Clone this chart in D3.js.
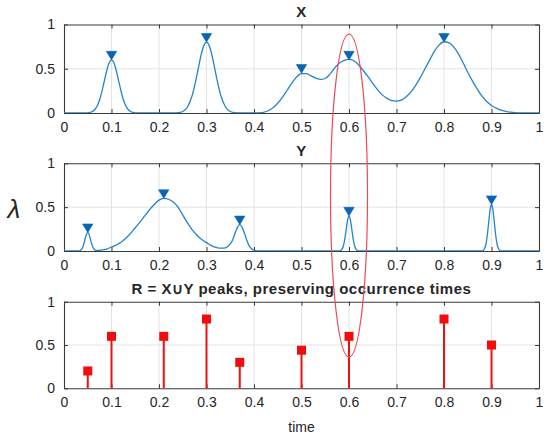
<!DOCTYPE html>
<html><head><meta charset="utf-8">
<script src="https://cdn.jsdelivr.net/npm/d3@7"></script>
<style>
html,body{margin:0;padding:0;background:#fff;}
svg{display:block;}
text{font-family:"Liberation Sans",Arial,Helvetica,sans-serif;fill:#262626;}
</style></head>
<body>
<svg id="chart" width="550" height="440"></svg>
<script>
// ---------- data ----------
const xTicks = [0,0.1,0.2,0.3,0.4,0.5,0.6,0.7,0.8,0.9,1];
const xTickLabels = ["0","0.1","0.2","0.3","0.4","0.5","0.6","0.7","0.8","0.9","1"];
const yTicks = [0,0.5,1];
const yTickLabels = ["0","0.5","1"];

// X signal
const xCurveT = [0,0.04,0.05,0.06,0.065,0.07,0.075,0.08,0.085,0.09,0.095,0.1,0.105,0.11,0.115,0.12,0.125,0.13,0.135,0.14,0.15,0.16,
  0.23,0.24,0.25,0.26,0.27,0.28,0.29,0.295,0.3,0.305,0.31,0.32,0.33,0.34,0.35,0.36,0.37,
  0.4,0.41,0.42,0.43,0.44,0.45,0.46,0.47,0.48,0.49,0.5,0.51,0.52,0.53,0.54,0.55,0.56,0.57,0.58,0.59,0.6,
  0.61,0.62,0.63,0.64,0.65,0.66,0.67,0.68,0.69,0.7,0.71,0.72,0.73,0.74,0.75,0.76,0.77,0.78,0.79,0.8,
  0.81,0.82,0.83,0.84,0.85,0.86,0.87,0.88,0.89,0.9,0.91,0.92,0.93,0.94,0.95,0.96,0.97,1];
const xCurveV = [0,0,0.002,0.017,0.04,0.081,0.15,0.247,0.364,0.48,0.567,0.6,0.567,0.48,0.364,0.247,0.15,0.081,0.04,0.017,0.002,0,
  0,0.003,0.017,0.068,0.2,0.431,0.686,0.77,0.8,0.77,0.686,0.431,0.2,0.068,0.017,0.003,0,
  0,0.002,0.008,0.025,0.06,0.11,0.18,0.26,0.34,0.41,0.445,0.445,0.42,0.395,0.38,0.39,0.44,0.51,0.565,0.595,0.605,
  0.59,0.545,0.48,0.41,0.335,0.265,0.205,0.165,0.14,0.135,0.145,0.18,0.235,0.31,0.4,0.5,0.6,0.7,0.77,0.805,
  0.795,0.75,0.67,0.57,0.46,0.36,0.27,0.19,0.13,0.085,0.055,0.032,0.018,0.009,0.004,0.001,0,0];
const xPeaksT = [0.1,0.3,0.5,0.6,0.8];
const xPeaksV = [0.6,0.8,0.45,0.6,0.8];

// Y signal
const yCurveT = [0,0.03,0.035,0.0375,0.04,0.0425,0.045,0.0475,0.05,0.0525,0.055,0.0575,0.06,0.0625,0.065,0.07,0.08,0.09,
  0.1,0.11,0.12,0.13,0.14,0.15,0.16,0.17,0.18,0.19,0.2,0.21,0.22,0.23,0.24,0.25,0.26,0.27,0.28,0.29,0.3,0.31,0.32,0.33,
  0.34,0.35,0.355,0.36,0.365,0.37,0.375,0.38,0.385,0.39,0.4,0.41,
  0.58,0.585,0.5875,0.59,0.5925,0.595,0.5975,0.6,0.6025,0.605,0.6075,0.61,0.6125,0.615,0.62,
  0.88,0.885,0.8875,0.89,0.8925,0.895,0.8975,0.9,0.9025,0.905,0.9075,0.91,0.9125,0.915,0.92,1];
const yCurveV = [0,0,0.009,0.024,0.052,0.096,0.148,0.193,0.21,0.193,0.148,0.096,0.053,0.026,0.011,0.006,0.012,0.022,
  0.045,0.068,0.1,0.145,0.2,0.265,0.33,0.4,0.47,0.53,0.58,0.6,0.59,0.56,0.5,0.41,0.32,0.24,0.18,0.13,0.095,0.062,0.042,0.032,
  0.036,0.08,0.125,0.2,0.27,0.3,0.27,0.2,0.12,0.058,0.008,0,
  0,0.018,0.046,0.1,0.183,0.283,0.367,0.4,0.367,0.283,0.183,0.1,0.046,0.018,0.001,
  0.001,0.023,0.06,0.133,0.243,0.375,0.486,0.53,0.486,0.375,0.243,0.133,0.06,0.023,0.001,0];
const yPeaksT = [0.05,0.21,0.37,0.6,0.9];
const yPeaksV = [0.21,0.6,0.3,0.4,0.53];

// R = X ∪ Y peaks
const rT = [0.05,0.1,0.21,0.3,0.37,0.5,0.6,0.8,0.9];
const rV = [0.2,0.6,0.6,0.8,0.3,0.44,0.6,0.8,0.5];

const titles = ["X","Y","R = X\u222AY peaks, preserving occurrence times"];

// ---------- layout ----------
const svg = d3.select("#chart");
const left = 64, right = 539;
const panels = [
  {top:24.5, bottom:113},
  {top:163.3, bottom:251},
  {top:301.7, bottom:388.3}
];
const x = d3.scaleLinear().domain([0,1]).range([left,right]);
const gridCol = "#e3e3e3", axCol = "#3a3a3a";
const lineCol = "#2483cc", markCol = "#0a64b4";

function drawAxes(p, i){
  const y = d3.scaleLinear().domain([0,1]).range([p.bottom,p.top]);
  p.y = y;
  const g = svg.append("g");
  g.selectAll(".gx").data(xTicks.slice(1,-1)).enter().append("line")
    .attr("x1",d=>x(d)).attr("x2",d=>x(d)).attr("y1",p.top).attr("y2",p.bottom)
    .attr("stroke",gridCol).attr("stroke-width",1);
  g.selectAll(".gy").data(yTicks.slice(1,-1)).enter().append("line")
    .attr("x1",left).attr("x2",right).attr("y1",d=>y(d)).attr("y2",d=>y(d))
    .attr("stroke",gridCol).attr("stroke-width",1);
  const ax = d3.axisBottom(x).tickValues(xTicks).tickFormat((d,k)=>xTickLabels[k]).tickSizeInner(-4).tickSizeOuter(0).tickPadding(9);
  const gb = g.append("g").attr("transform",`translate(0,${p.bottom})`).call(ax);
  const axT = d3.axisTop(x).tickValues(xTicks).tickFormat("").tickSizeInner(-4).tickSizeOuter(0);
  const gt = g.append("g").attr("transform",`translate(0,${p.top})`).call(axT);
  const ay = d3.axisLeft(y).tickValues(yTicks).tickFormat((d,k)=>yTickLabels[k]).tickSizeInner(-4).tickSizeOuter(0).tickPadding(9);
  const gl = g.append("g").attr("transform",`translate(${left},0)`).call(ay);
  const ayR = d3.axisRight(y).tickValues(yTicks).tickFormat("").tickSizeInner(-4).tickSizeOuter(0);
  const gr = g.append("g").attr("transform",`translate(${right},0)`).call(ayR);
  [gb,gt,gl,gr].forEach(a=>{
    a.select(".domain").attr("stroke",axCol).attr("stroke-width",1.1);
    a.selectAll(".tick line").attr("stroke",axCol).attr("stroke-width",1);
    a.selectAll("text").attr("font-size",14).attr("fill","#262626")
      .attr("font-family","Liberation Sans, Arial, sans-serif");
  });
  gb.selectAll("text").attr("dy","0.71em");
  svg.append("text").attr("x",(left+right)/2).attr("y",p.top-7.5)
    .attr("text-anchor","middle").attr("font-weight","bold").attr("font-size",15)
    .attr("letter-spacing",0.5).attr("fill","#111").text(titles[i]);
}
panels.forEach(drawAxes);

const clip = svg.append("defs");
panels.forEach((p,i)=>{
  clip.append("clipPath").attr("id","c"+i).append("rect")
    .attr("x",left).attr("y",p.top).attr("width",right-left).attr("height",p.bottom-p.top);
});

function drawCurve(p, idx, T, V, PT, PV){
  const line = d3.line().x(d=>x(d[0])).y(d=>p.y(d[1])).curve(d3.curveMonotoneX);
  svg.append("path").datum(T.map((t,k)=>[t,V[k]]))
    .attr("clip-path",`url(#c${idx})`)
    .attr("d",line).attr("fill","none").attr("stroke",lineCol).attr("stroke-width",1.3);
  svg.selectAll(null).data(PT.map((t,k)=>[t,PV[k]])).enter().append("path")
    .attr("d","M-5.2,-8.6L5.2,-8.6L0,0Z")
    .attr("transform",d=>`translate(${x(d[0])},${p.y(d[1])})`)
    .attr("fill",markCol).attr("stroke",markCol).attr("stroke-width",0.6);
}
drawCurve(panels[0],0,xCurveT,xCurveV,xPeaksT,xPeaksV);
drawCurve(panels[1],1,yCurveT,yCurveV,yPeaksT,yPeaksV);

const p3 = panels[2];
const rd = rT.map((t,k)=>[t,rV[k]]);
svg.selectAll(null).data(rd).enter().append("line")
  .attr("x1",d=>x(d[0])).attr("x2",d=>x(d[0]))
  .attr("y1",p3.y(0)).attr("y2",d=>p3.y(d[1]))
  .attr("stroke","#f01010").attr("stroke-width",2);
svg.selectAll(null).data(rd).enter().append("rect")
  .attr("x",d=>x(d[0])-4.5).attr("y",d=>p3.y(d[1])-4.5)
  .attr("width",9).attr("height",9).attr("fill","#f40c0c");

svg.append("text").attr("x",(left+right)/2).attr("y",431.5).attr("text-anchor","middle")
  .attr("font-size",14).text("time");
svg.append("text").attr("x",14).attr("y",218).attr("text-anchor","middle")
  .attr("font-family","Liberation Serif, Times New Roman, serif").attr("font-style","italic")
  .attr("font-size",26).attr("fill","#111").text("\u03BB");

svg.append("ellipse").attr("cx",x(0.6)).attr("cy",(panels[0].top+9.5+p3.y(0.36))/2)
  .attr("rx",18.5).attr("ry",(p3.y(0.36)-panels[0].top-9.5)/2)
  .attr("fill","none").attr("stroke","#ec4a55").attr("stroke-width",1.2);
</script>
</body></html>
